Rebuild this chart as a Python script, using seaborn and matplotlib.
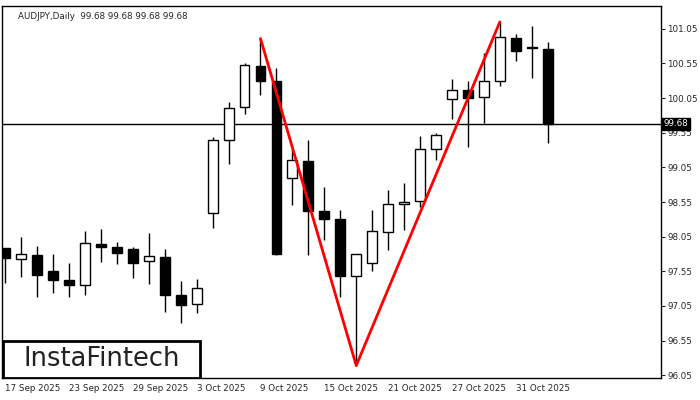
import matplotlib
matplotlib.use("Agg")
import matplotlib.pyplot as plt
from matplotlib.patches import Rectangle
import seaborn as sns
import pandas as pd
import numpy as np

opens  = [97.88,97.73,97.78,97.55,97.42,97.35,97.94,97.90,97.87,97.70,97.76,97.21,97.08,98.39,99.45,99.92,100.52,100.30,98.90,99.14,98.42,98.30,97.48,97.67,98.12,98.52,98.56,99.32,100.04,100.17,100.07,100.30,100.92,100.78,100.76]
closes = [97.74,97.80,97.49,97.42,97.35,97.96,97.90,97.81,97.67,97.77,97.21,97.06,97.31,99.45,99.91,100.53,100.30,97.80,99.16,98.42,98.30,97.48,97.80,98.13,98.52,98.55,99.32,99.52,100.17,100.05,100.30,100.93,100.73,100.77,99.68]
highs  = [97.89,98.04,97.91,97.80,97.67,98.13,98.16,97.97,97.90,98.10,97.87,97.41,97.44,99.49,99.99,100.56,100.91,100.49,99.32,99.45,98.77,98.43,97.80,98.43,98.72,98.82,99.50,99.55,100.33,100.30,100.70,101.15,100.98,101.09,100.86]
lows   = [97.38,97.47,97.18,97.24,97.18,97.21,97.68,97.65,97.45,97.37,96.96,96.80,96.95,98.17,99.10,99.82,100.10,97.78,98.51,97.78,98.00,97.18,96.19,97.55,97.86,98.15,98.48,99.16,99.75,99.34,99.69,100.23,100.59,100.34,99.40]
tick_idx = [0,4,8,12,16,20,24,28,32]
tick_labels = ["17 Sep 2025","23 Sep 2025","29 Sep 2025","3 Oct 2025","9 Oct 2025","15 Oct 2025","21 Oct 2025","27 Oct 2025","31 Oct 2025"]
pattern_idx = [16,22,31]
pattern_px = [100.91,96.19,101.15]
last_price = 99.68

sns.set_style("white")
plt.rcParams['font.family'] = ['DejaVu Sans']
fig = plt.figure(figsize=(7,4), dpi=100)
ax = fig.add_axes([2/700, 22/400, 659/700, 372/400])

df = pd.DataFrame(dict(i=np.arange(len(opens)), o=opens, c=closes, h=highs, l=lows))
ax.vlines(df.i, df.l, df.h, color="black", lw=1, zorder=2)
bot = np.minimum(df.o, df.c); hgt = np.maximum(np.abs(df.c-df.o), 0.02)
cols = ["white" if c >= o else "black" for o, c in zip(df.o, df.c)]
ax.bar(df.i, hgt, bottom=bot, width=0.62, color=cols, edgecolor="black", lw=1, zorder=3)
ax.axhline(last_price, color="black", lw=1, zorder=1)
sns.lineplot(x=pattern_idx, y=pattern_px, color="red", lw=2, ax=ax, zorder=4)

ax.set_xlim(-0.2, 41.1)
ax.set_ylim(96.01, 101.38)
ax.set_xticks(tick_idx)
ax.set_xticklabels(tick_labels, fontsize=6.3, ha="left")
ax.yaxis.tick_right()
yt = np.arange(96.05, 101.1, 0.5)
ax.set_yticks(yt)
ax.set_yticklabels([f"{v:.2f}" for v in yt], fontsize=6.3)
ax.tick_params(length=3, direction="out", pad=1.5)
for s in ax.spines.values():
    s.set_color("black"); s.set_linewidth(1)
ax.text(1.004, last_price, f"{last_price:.2f}", transform=ax.get_yaxis_transform(), fontsize=6.3,
        color="white", va="center", ha="left", bbox=dict(boxstyle="square,pad=0.2", fc="black", ec="black"))
ax.text(0.024, 0.985, "AUDJPY,Daily  99.68 99.68 99.68 99.68", transform=ax.transAxes, fontsize=6.3, va="top")
ax.add_patch(Rectangle((0.002, 0.0), 0.299, 0.1, transform=ax.transAxes, fc="white", ec="black", lw=2, zorder=6))
ax.text(0.1515, 0.05, "InstaFintech", transform=ax.transAxes, fontsize=18.5, color="#222222",
        va="center", ha="center", zorder=7)
fig.savefig("out.png", dpi=100)
